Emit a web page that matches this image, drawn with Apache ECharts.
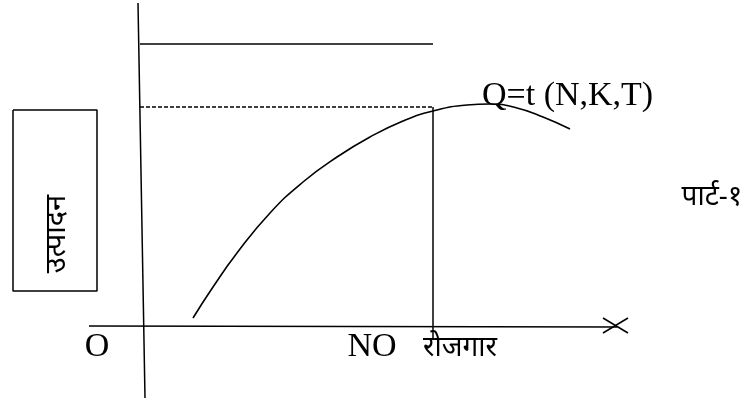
<!DOCTYPE html>
<html>
<head>
<meta charset="utf-8">
<script src="https://cdn.jsdelivr.net/npm/echarts@6/dist/echarts.min.js"></script>
<style>
  html, body { margin: 0; padding: 0; background: #fff; }
  #chart { width: 750px; height: 403px; }
</style>
</head>
<body>
<div id="chart"></div>
<script>
// units: employment (x) / output (y), origin at the axis crossing
var yAxisLine = [[-0.5, 32.3], [0.2, -7.2]];
var xAxisLine = [[-5.4, 0], [47.4, -0.1]];
var arrowA = [[46.0, 0.8], [48.5, -0.7]];
var arrowB = [[46.0, -0.7], [48.5, 0.8]];
var topLine = [[-0.3, 28.2], [29.0, 28.2]];
var dashLine = [[-0.3, 21.9], [29.0, 21.9]];
var noLine = [[29.0, 21.9], [29.0, -1.2]];
var curve = [
    [5.0, 0.8], [7.0, 3.9], [9.4, 7.3], [12.7, 11.3], [16.0, 14.4],
    [19.4, 16.9], [22.7, 18.9], [26.0, 20.5], [29.0, 21.5], [32.4, 22.1],
    [34.7, 22.2], [37.4, 21.8], [40.0, 20.9], [42.7, 19.7]
];
var labelBox = [[-13.0, 21.6], [-4.6, 21.6], [-4.6, 3.5], [-13.0, 3.5], [-13.0, 21.6]];

var curveName = 'Q=t (N,K,T)';
var yTitle = 'उत्पादन';
var xTitle = 'रोजगार';
var partLabel = 'पार्ट-१';

var myChart = echarts.init(document.getElementById('chart'));

function seg(data, dashed) {
    return {
        type: 'line',
        data: data,
        symbol: 'none',
        silent: true,
        animation: false,
        lineStyle: {
            color: '#000',
            width: 1.5,
            type: dashed ? [4, 2] : 'solid'
        }
    };
}

var serif = '"Liberation Serif", "Times New Roman", serif';
var deva = '"Noto Sans", sans-serif';

var option = {
    backgroundColor: '#fff',
    animation: false,
    grid: { left: 0, right: 0, top: 0, bottom: 0 },
    xAxis: { type: 'value', min: -14.3, max: 60.7, show: false },
    yAxis: { type: 'value', min: -7.7, max: 32.6, show: false },
    series: [
        seg(yAxisLine),
        seg(xAxisLine),
        seg(arrowA),
        seg(arrowB),
        seg(topLine),
        seg(dashLine, true),
        seg(noLine),
        seg(labelBox),
        {
            type: 'line',
            data: curve,
            smooth: 0.5,
            symbol: 'none',
            silent: true,
            lineStyle: { color: '#000', width: 1.6 }
        }
    ],
    graphic: [
        {
            type: 'text', x: 482, y: 96,
            style: { text: curveName, font: '34px ' + serif, fill: '#000', verticalAlign: 'middle' }
        },
        {
            type: 'text', x: 97, y: 347,
            style: { text: 'O', font: '34px ' + serif, fill: '#000', align: 'center', verticalAlign: 'middle' }
        },
        {
            type: 'text', x: 372, y: 347,
            style: { text: 'NO', font: '34px ' + serif, fill: '#000', align: 'center', verticalAlign: 'middle' }
        },
        {
            type: 'text', x: 460, y: 348,
            style: { text: xTitle, font: '28px ' + deva, fill: '#000', align: 'center', verticalAlign: 'middle' }
        },
        {
            type: 'text', x: 712, y: 197,
            style: { text: partLabel, font: '28px ' + deva, fill: '#000', align: 'center', verticalAlign: 'middle' }
        },
        {
            type: 'text', x: 57, y: 234, rotation: Math.PI / 2,
            style: { text: yTitle, font: '29px ' + deva, fill: '#000', align: 'center', verticalAlign: 'middle' }
        }
    ]
};

myChart.setOption(option);
</script>
</body>
</html>
